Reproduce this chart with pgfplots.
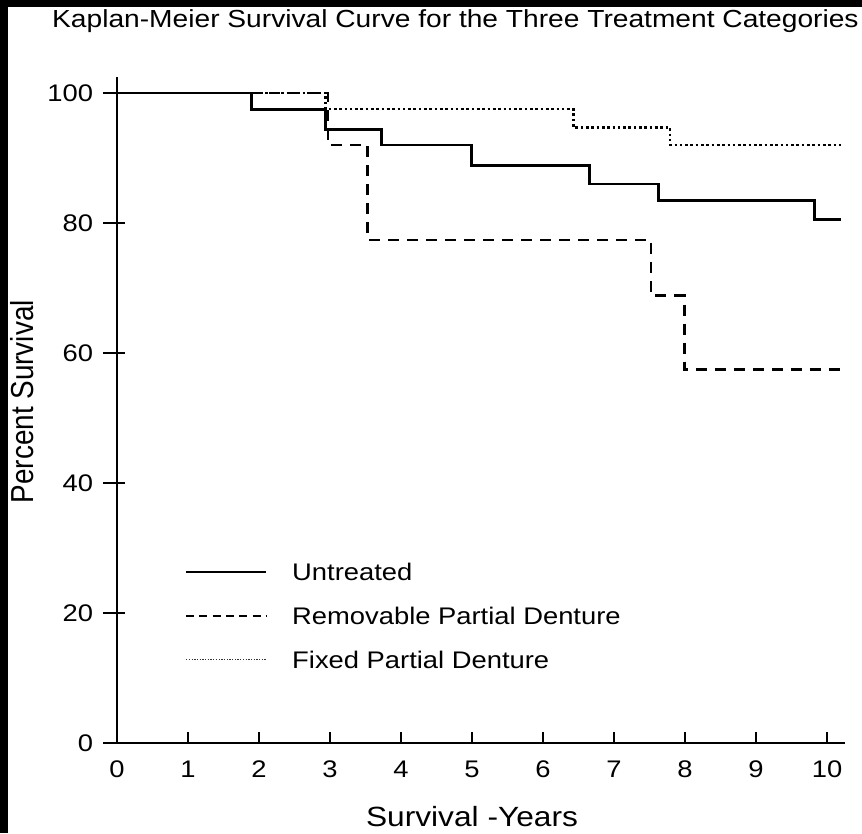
\documentclass[border=0pt]{standalone}
\usepackage{pgfplots}
\pgfplotsset{compat=1.18}
\usepackage{fontspec}
\setmainfont{Liberation Sans}[FakeStretch=1.14]
\newfontfamily\plainsans{Liberation Sans}

% Kaplan-Meier step data (years, percent surviving)
\pgfplotstableread{
x y
0    100
1.89 97.5
2.94 94.4
3.73 92.0
4.99 88.8
6.65 86.0
7.63 83.4
9.82 80.5
10.2 80.5
}\untreated
\pgfplotstableread{
x y
0    100
2.97 92.0
3.53 77.4
7.52 68.8
7.99 57.5
10.2 57.5
}\removable
\pgfplotstableread{
x y
0    100
2.94 97.5
6.43 94.7
7.79 92.0
10.2 92.0
}\fixed

\begin{document}
\begin{tikzpicture}
\useasboundingbox (0,0) rectangle (862pt,833pt);
\begin{axis}[
  at={(117pt,90pt)}, anchor=origin,
  scale only axis,
  width=727.75pt, height=666.25pt,
  xmin=0, xmax=10.25, ymin=0, ymax=102.5,
  axis x line*=bottom, axis y line*=left,
  axis line style={line width=1.9pt,-},
  xtick={0,1,...,10}, ytick={0,20,...,100},
  minor tick num=0,
  xtick align=inside, ytick align=center,
  major tick length=11.5pt,
  tick style={line width=1.6pt, black},
  ytick style={/pgfplots/major tick length=22pt, xshift=-3pt},
  font=\fontsize{24}{29}\selectfont,
  /pgf/number format/assume math mode=true,
  xticklabel style={anchor=base, inner sep=0pt, yshift=-34pt},
  yticklabel style={anchor=east, inner sep=0pt, xshift=-18pt},
  title={Kaplan-Meier Survival Curve for the Three Treatment Categories},
  title style={at={(rel axis cs:-0.0893,1.0642)}, anchor=base west, inner sep=0pt, font=\fontsize{24.7}{29}\selectfont},
  xlabel={Survival -Years},
  xlabel style={at={(axis cs:5,-12.9)}, anchor=base, inner sep=0pt, font=\fontsize{27.8}{33}\selectfont},
  ylabel={\scalebox{1}[1.14]{\plainsans\fontsize{27.9}{33}\selectfont Percent Survival}},
  ylabel style={at={(axis cs:-1.183,52.5)}, anchor=base, rotate=0, inner sep=0pt},
  legend style={draw=none, fill=none, at={(axis cs:0.958,28.12)}, anchor=north west,
    inner sep=0pt, outer sep=0pt, row sep=21pt, column sep=25pt,
    nodes={inner sep=0pt, text height=20pt, text depth=3pt},
    font=\fontsize{24}{29}\selectfont},
  legend cell align=left,
  clip=false,
]
\addplot[const plot, black, line width=2.8pt,
  legend image code/.code={\draw[black, line width=2.2pt] (0pt,0pt) -- (80pt,0pt);}]
  table[x=x, y=y] {\untreated};
\addlegendentry{Untreated}
\addplot[const plot, black, line width=2.7pt, dash pattern=on 11pt off 8pt,
  legend image code/.code={\draw[black, line width=1.6pt, dash pattern=on 8pt off 5.3pt] (0pt,0pt) -- (80pt,0pt);}]
  table[x=x, y=y] {\removable};
\addlegendentry{Removable Partial Denture}
\addplot[const plot, black, line width=2.5pt, dash pattern=on 2.6pt off 2.7pt,
  legend image code/.code={\draw[black!80, line width=1.4pt, dash pattern=on 1.3pt off 1.4pt] (0pt,0pt) -- (80pt,0pt);}]
  table[x=x, y=y] {\fixed};
\addlegendentry{Fixed Partial Denture}
\end{axis}
% scanned page edges
\fill[black] (0,0) rectangle (8pt,833pt);
\fill[black] (0,826pt) rectangle (862pt,833pt);
\end{tikzpicture}
\end{document}
